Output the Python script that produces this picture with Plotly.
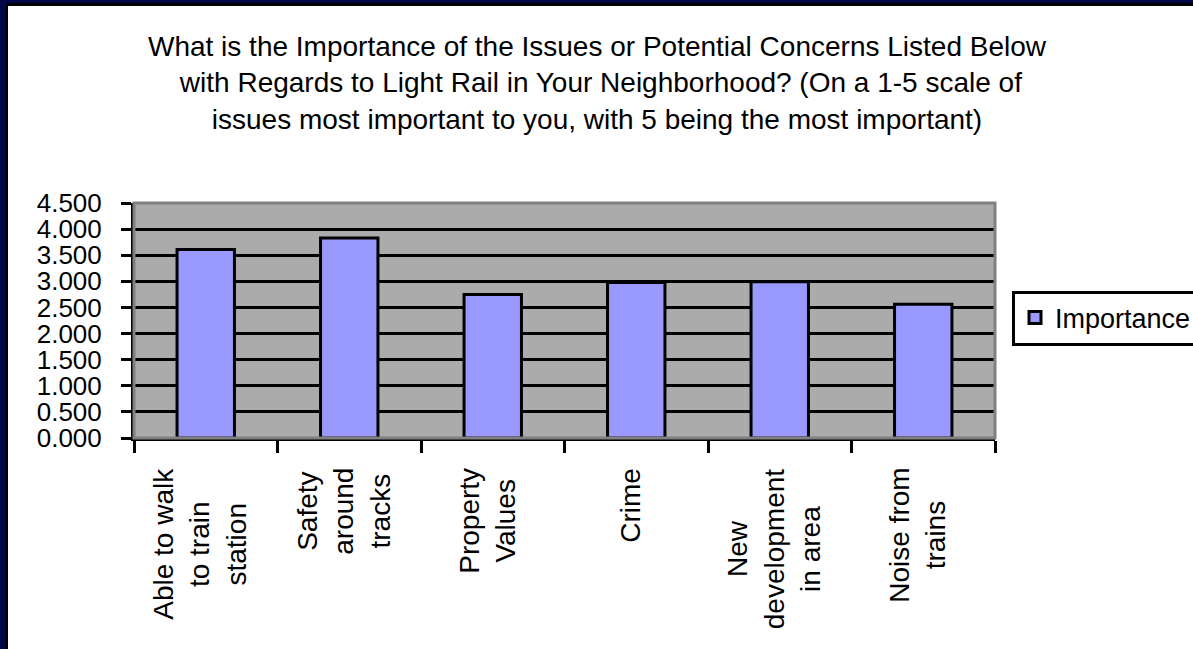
import plotly.graph_objects as go

# ---- data ----
categories = [
    "Able to walk<br>to train<br>station",
    "Safety<br>around<br>tracks",
    "Property<br>Values",
    "Crime",
    "New<br>development<br>in area",
    "Noise from<br>trains",
]
category_keys = ["walk", "safety", "property", "crime", "newdev", "noise"]
importance = [3.61, 3.83, 2.75, 2.98, 2.99, 2.56]
series_name = "Importance"
y_ticks = [0, 0.5, 1.0, 1.5, 2.0, 2.5, 3.0, 3.5, 4.0, 4.5]

title_text = ("What is the Importance of the Issues or Potential Concerns Listed Below<br>"
              " with Regards to Light Rail in Your Neighborhood? (On a 1-5 scale of<br>"
              "issues most important to you, with 5 being the most important)")

# ---- layout geometry (pixels) ----
W, H = 1193, 649
L, R, T, B = 134, 198, 203, 211
PW, PH = W - L - R, H - T - B

def px_x(x):
    return (x - L) / PW

def px_y(y):
    return (H - B - y) / PH

FONT = "Liberation Sans, Arial, sans-serif"
NAVY = "#000848"

fig = go.Figure()
fig.add_trace(go.Bar(
    x=category_keys, y=importance, name=series_name,
    width=0.4,
    marker=dict(color="#9999ff", line=dict(color="black", width=3)),
    showlegend=True,
))

annotations = []
for key, lab in zip(category_keys, categories):
    annotations.append(dict(
        x=key, xref="x", y=px_y(466), yref="paper",
        text=lab, showarrow=False, textangle=-90,
        xanchor="center", yanchor="top", align="center", xshift=-6,
        font=dict(family=FONT, size=28, color="black"),
    ))

shapes = [
    # plot-area border (top/right grey)
    dict(type="rect", xref="paper", yref="paper", x0=0, y0=0, x1=1, y1=1,
         line=dict(color="#808080", width=3), layer="above"),
    # slide frame: left
    dict(type="rect", xref="paper", yref="paper", x0=px_x(0), x1=px_x(6),
         y0=px_y(H), y1=px_y(0), fillcolor=NAVY, line=dict(width=0)),
    dict(type="rect", xref="paper", yref="paper", x0=px_x(6), x1=px_x(8),
         y0=px_y(H), y1=px_y(6), fillcolor="black", line=dict(width=0)),
    # slide frame: top
    dict(type="rect", xref="paper", yref="paper", x0=px_x(0), x1=px_x(W),
         y0=px_y(3), y1=px_y(0), fillcolor=NAVY, line=dict(width=0)),
    dict(type="rect", xref="paper", yref="paper", x0=px_x(6), x1=px_x(W),
         y0=px_y(6), y1=px_y(3), fillcolor="black", line=dict(width=0)),
]

fig.update_layout(
    width=W, height=H,
    margin=dict(l=L, r=R, t=T, b=B, autoexpand=False),
    paper_bgcolor="white",
    plot_bgcolor="#ababab",
    font=dict(family=FONT, size=28, color="black"),
    title=dict(text=title_text, x=597 / W, xref="container", xanchor="center",
               y=1 - 56 / H, yref="container", yanchor="top",
               font=dict(family=FONT, size=28, color="black")),
    showlegend=True,
    legend=dict(x=px_x(1012), y=px_y(318), xanchor="left", yanchor="middle",
                bgcolor="white", bordercolor="black", borderwidth=3,
                font=dict(family=FONT, size=27, color="black"),
                itemwidth=30),
    xaxis=dict(type="category", showticklabels=False, showgrid=False,
               showline=True, linecolor="black", linewidth=3,
               ticks="outside", ticklen=12, tickwidth=3, tickcolor="black",
               tickson="boundaries", zeroline=False),
    yaxis=dict(range=[0, 4.5], tickvals=y_ticks, tickformat=".3f",
               showgrid=True, gridcolor="black", gridwidth=3,
               showline=True, linecolor="black", linewidth=3,
               ticks="outside", ticklen=10, tickwidth=3, tickcolor="black",
               ticklabelstandoff=14,
               zeroline=False, tickfont=dict(family=FONT, size=26)),
    annotations=annotations,
    shapes=shapes,
    bargap=0.6,
)

fig.write_html("out.html", config={"displayModeBar": False},
               post_script="document.body.style.margin='0';document.body.style.overflow='hidden';")
